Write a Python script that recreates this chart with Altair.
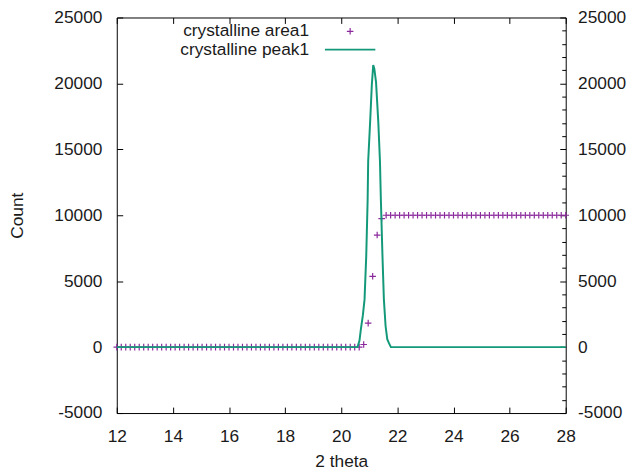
import altair as alt
import pandas as pd

# ---------------- data ----------------
series_names = ["crystalline area1", "crystalline peak1"]
series_colors = ["#8b2a9c", "#13997a"]

area_two_theta = [
    12.00, 12.16, 12.32, 12.48, 12.64, 12.80, 12.96, 13.12, 13.28, 13.44, 13.60, 13.76, 13.92,
    14.08, 14.24, 14.40, 14.56, 14.72, 14.88, 15.04, 15.20, 15.36, 15.52, 15.68, 15.84,
    16.00, 16.16, 16.32, 16.48, 16.64, 16.80, 16.96, 17.12, 17.28, 17.44, 17.60, 17.76, 17.92,
    18.08, 18.24, 18.40, 18.56, 18.72, 18.88, 19.04, 19.20, 19.36, 19.52, 19.68, 19.84,
    20.00, 20.16, 20.32, 20.48, 20.64, 20.80, 20.96, 21.12, 21.28, 21.44, 21.60, 21.76, 21.92,
    22.08, 22.24, 22.40, 22.56, 22.72, 22.88, 23.04, 23.20, 23.36, 23.52, 23.68, 23.84,
    24.00, 24.16, 24.32, 24.48, 24.64, 24.80, 24.96, 25.12, 25.28, 25.44, 25.60, 25.76, 25.92,
    26.08, 26.24, 26.40, 26.56, 26.72, 26.88, 27.04, 27.20, 27.36, 27.52, 27.68, 27.84, 28.00,
]
area_counts = [0] * 55 + [200, 1820, 5370, 8500, 9750] + [10000] * 41

peak_two_theta = [12.0, 20.58, 20.65, 20.70, 20.77, 20.83, 20.89, 20.94, 20.96, 21.03, 21.09,
                  21.14, 21.18, 21.24, 21.32, 21.38, 21.41, 21.47, 21.52, 21.58, 21.64, 21.70,
                  21.77, 28.0]
peak_counts = [0, 0, 500, 1370, 2400, 3600, 6870, 11100, 14100, 17100, 19900,
               21400, 21100, 20100, 17100, 14100, 11350, 6870, 3600, 1600, 600, 300,
               0, 0]

x_ticks = [12, 14, 16, 18, 20, 22, 24, 26, 28]
y_ticks = [-5000, 0, 5000, 10000, 15000, 20000, 25000]
y_minor = [-4000, -3000, -2000, -1000, 1000, 2000, 3000, 4000, 6000, 7000, 8000, 9000,
           11000, 12000, 13000, 14000, 16000, 17000, 18000, 19000, 21000, 22000, 23000, 24000]

# ---------------- chart ----------------
FONT = "Liberation Sans"
FS = 17.5
W, H = 454, 400
CROSS = "M-0.13,0L0.13,0M0,-0.13L0,0.13"
PLAIN = "'' + datum.value"

area_df = pd.DataFrame({"two_theta": area_two_theta, "count": area_counts,
                        "series": [series_names[0]] * len(area_two_theta)})
peak_df = pd.DataFrame({"two_theta": peak_two_theta, "count": peak_counts,
                        "series": [series_names[1]] * len(peak_two_theta)})

x_scale = alt.Scale(domain=[12, 28], nice=False, zero=False)
y_scale = alt.Scale(domain=[-5000, 25000], nice=False, zero=False)


def ax(**kw):
    base = dict(grid=False, domain=False, labels=False, ticks=False, title=None,
                labelOverlap=False, labelFlush=False, tickColor="black", tickWidth=1)
    base.update(kw)
    return alt.Axis(**base)


def key(y, symbol, stroke_width):
    return alt.Legend(
        orient="none", legendX=209.5, legendY=y, title=None,
        labelAlign="right", labelOffset={"expr": "-68"},
        symbolType=symbol, symbolSize=2601, symbolStrokeWidth=stroke_width,
        labelFont=FONT, labelFontSize=FS, labelColor="#1a1a1a", labelLimit=300,
    )


points = alt.Chart(area_df).mark_point(
    shape=CROSS, filled=False, size=2601, strokeWidth=1.2, opacity=1, clip=False
).encode(
    x=alt.X("two_theta:Q", scale=x_scale,
            axis=ax(orient="bottom", labels=True, values=x_ticks, labelPadding=15,
                    title="2 theta", titleX=W / 2, titleY=54, titleBaseline="alphabetic")),
    y=alt.Y("count:Q", scale=y_scale,
            axis=ax(orient="left", labels=True, values=y_ticks, labelPadding=15,
                    labelExpr=PLAIN,
                    title="Count", titleX=-95, titleY=H / 2, titleAngle=270,
                    titleBaseline="alphabetic", titleAlign="center")),
    color=alt.Color("series:N",
                    scale=alt.Scale(domain=series_names[:1], range=series_colors[:1]),
                    legend=key(-12.5, CROSS, 1.2)),
)

line = alt.Chart(peak_df).mark_line(strokeWidth=2).encode(
    x=alt.X("two_theta:Q", scale=x_scale,
            axis=ax(orient="top", offset=-H, ticks=True, tickSize=6, values=x_ticks)),
    y=alt.Y("count:Q", scale=y_scale,
            axis=ax(orient="right", offset=-W, ticks=True, tickSize=6, values=y_ticks)),
    color=alt.Color("series:N",
                    scale=alt.Scale(domain=series_names[1:], range=series_colors[1:]),
                    legend=key(6, "stroke", 2)),
)

ghost = alt.Chart(peak_df).mark_line(opacity=0)
g3 = ghost.encode(
    x=alt.X("two_theta:Q", scale=x_scale,
            axis=ax(orient="bottom", offset=-H, ticks=True, tickSize=6, values=x_ticks)),
    y=alt.Y("count:Q", scale=y_scale,
            axis=ax(orient="right", labels=True, values=y_ticks, labelPadding=12,
                    labelAlign="left", labelExpr=PLAIN)),
)
g4 = ghost.encode(
    x=alt.X("two_theta:Q", scale=x_scale, axis=None),
    y=alt.Y("count:Q", scale=y_scale,
            axis=ax(orient="left", offset=-W, ticks=True, tickSize=6, values=y_ticks)),
)
g5 = ghost.encode(
    x=alt.X("two_theta:Q", scale=x_scale, axis=None),
    y=alt.Y("count:Q", scale=y_scale,
            axis=ax(orient="left", offset=-W, ticks=True, tickSize=4, values=y_minor)),
)

chart = (
    alt.layer(points, line, g3, g4, g5)
    .resolve_axis(x="independent", y="independent")
    .resolve_scale(color="independent")
    .resolve_legend(color="independent")
    .properties(width=W, height=H, autosize=alt.AutoSizeParams(type="none"),
                padding={"left": 110, "top": 7, "right": 64, "bottom": 55})
    .configure_view(stroke="black", strokeWidth=1)
    .configure_axis(labelFont=FONT, labelFontSize=FS, labelColor="#1a1a1a",
                    titleFont=FONT, titleFontSize=FS, titleFontWeight="normal",
                    titleColor="#1a1a1a")
)

chart.save("out.html", embed_options={"renderer": "svg", "actions": False})
